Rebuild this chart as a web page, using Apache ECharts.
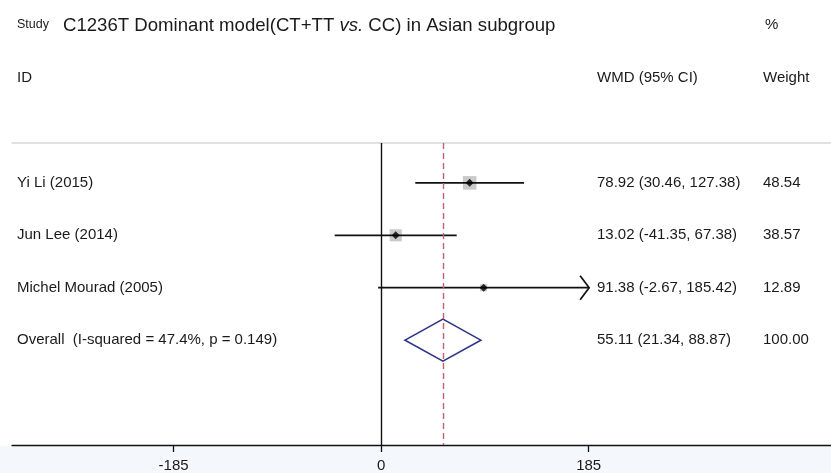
<!DOCTYPE html>
<html>
<head>
<meta charset="utf-8">
<script src="https://cdn.jsdelivr.net/npm/echarts@6/dist/echarts.min.js"></script>
<style>
  html, body { margin: 0; padding: 0; background: #fff; }
  #main { width: 831px; height: 473px; }
</style>
</head>
<body>
<div id="main"></div>
<script>
// study rows
const studies = ['Yi Li (2015)', 'Jun Lee (2014)', 'Michel Mourad (2005)'];
const wmd = [78.92, 13.02, 91.38];
const ciLow = [30.46, -41.35, -2.67];
const ciHigh = [127.38, 67.38, 185.42];
const weights = [48.54, 38.57, 12.89];

// pooled estimate
const overallLabel = 'Overall  (I-squared = 47.4%, p = 0.149)';
const overallWmd = 55.11;
const overallLow = 21.34;
const overallHigh = 88.87;
const overallWeight = 100.00;

const xTicks = [-185, 0, 185];

const FONT = '"Liberation Sans", Arial, sans-serif';
const TEXT = '#1a1a1a';

const chart = echarts.init(document.getElementById('main'));

const rows = studies.map((s, i) => i + 1);
const overallRow = studies.length + 1;
const allLabels = studies.concat([overallLabel]);
const allCi = wmd.map((w, i) => w.toFixed(2) + ' (' + ciLow[i].toFixed(2) + ', ' + ciHigh[i].toFixed(2) + ')')
  .concat([overallWmd.toFixed(2) + ' (' + overallLow.toFixed(2) + ', ' + overallHigh.toFixed(2) + ')']);
const allWeights = weights.concat([overallWeight]).map(w => w.toFixed(2));
const axisMax = Math.max.apply(null, xTicks);

const option = {
  animation: false,
  backgroundColor: '#fff',
  grid: { left: 12, right: 0, top: 143, bottom: 28 },
  xAxis: [{
    type: 'value',
    min: -329,
    max: 401,
    position: 'bottom',
    splitLine: { show: false },
    axisLine: { lineStyle: { color: '#111', width: 1.3 } },
    axisTick: { customValues: xTicks, length: 7, lineStyle: { color: '#111', width: 1.3 } },
    axisLabel: { customValues: xTicks, fontSize: 15, color: TEXT, fontFamily: FONT, margin: 13 }
  }, {
    type: 'value',
    min: -329,
    max: 401,
    position: 'top',
    splitLine: { show: false },
    axisLine: { lineStyle: { color: '#d8d8d8', width: 1.5 } },
    axisTick: { show: false },
    axisLabel: { show: false }
  }],
  yAxis: {
    type: 'value',
    inverse: true,
    min: 0.24,
    max: 6,
    show: false
  },
  graphic: [
    { type: 'rect', shape: { x: 0, y: 446, width: 831, height: 27 }, style: { fill: '#f4f8fc' }, z: -1 },
    { type: 'text', style: { text: 'Study', x: 17, y: 25, font: '12.5px ' + FONT, fill: TEXT, verticalAlign: 'middle' } },
    { type: 'text', style: {
      text: '{a|C1236T Dominant model(CT+TT }{i|vs.}{a| CC) in Asian subgroup}',
      x: 63, y: 26, verticalAlign: 'middle',
      rich: {
        a: { fontSize: 18.6, fontFamily: FONT, fill: TEXT },
        i: { fontSize: 18.6, fontFamily: FONT, fontStyle: 'italic', fill: TEXT }
      }
    } },
    { type: 'text', style: { text: '%', x: 765, y: 25, font: '15px ' + FONT, fill: TEXT, verticalAlign: 'middle' } },
    { type: 'text', style: { text: 'ID', x: 17, y: 78, font: '15px ' + FONT, fill: TEXT, verticalAlign: 'middle' } },
    { type: 'text', style: { text: 'WMD (95% CI)', x: 597, y: 78, font: '15px ' + FONT, fill: TEXT, verticalAlign: 'middle' } },
    { type: 'text', style: { text: 'Weight', x: 763, y: 78, font: '15px ' + FONT, fill: TEXT, verticalAlign: 'middle' } }
  ],
  series: [
    {
      // weight boxes
      type: 'scatter',
      symbol: 'rect',
      symbolSize: (v, p) => 1.95 * Math.sqrt(weights[p.dataIndex]),
      itemStyle: { color: '#bdbdbd' },
      data: wmd.map((w, i) => [w, rows[i]]),
      z: 2
    },
    {
      // confidence intervals + reference lines
      type: 'custom',
      data: ciLow.map((lo, i) => [lo, ciHigh[i], rows[i]]),
      renderItem: (params, api) => {
        const a = api.coord([api.value(0), api.value(2)]);
        const b = api.coord([api.value(1), api.value(2)]);
        const children = [{
          type: 'line',
          shape: { x1: a[0], y1: a[1], x2: b[0], y2: b[1] },
          style: { stroke: '#111', lineWidth: 1.7 }
        }];
        if (api.value(1) > axisMax) {
          children.push({
            type: 'polyline',
            shape: { points: [[b[0] - 9, b[1] - 12], [b[0], b[1]], [b[0] - 9, b[1] + 12]] },
            style: { stroke: '#111', lineWidth: 1.7, fill: null }
          });
        }
        return { type: 'group', children: children };
      },
      markLine: {
        silent: true,
        symbol: 'none',
        label: { show: false },
        data: [
          { xAxis: 0, lineStyle: { color: '#111', type: 'solid', width: 1.4 } },
          { xAxis: overallWmd, lineStyle: { color: '#c0616d', type: [6, 4], width: 1.4 } }
        ]
      },
      z: 3
    },
    {
      // point estimates
      type: 'scatter',
      symbol: 'diamond',
      symbolSize: 8,
      itemStyle: { color: '#000' },
      data: wmd.map((w, i) => [w, rows[i]]),
      z: 4
    },
    {
      // pooled diamond
      type: 'custom',
      data: [[overallLow, overallWmd, overallHigh, overallRow]],
      renderItem: (params, api) => {
        const r = api.value(3);
        const l = api.coord([api.value(0), r]);
        const m = api.coord([api.value(1), r]);
        const h = api.coord([api.value(2), r]);
        return {
          type: 'polygon',
          shape: { points: [[l[0], l[1]], [m[0], m[1] - 21], [h[0], h[1]], [m[0], m[1] + 21]] },
          style: { stroke: '#2b3585', lineWidth: 1.6, fill: 'rgba(0,0,0,0)' }
        };
      },
      z: 3
    },
    {
      // row texts
      type: 'custom',
      data: allLabels.map((s, i) => [0, i + 1]),
      renderItem: (params, api) => {
        const y = api.coord([0, api.value(1)])[1];
        const i = params.dataIndex;
        const st = (t, x) => ({
          type: 'text',
          style: { text: t, x: x, y: y, font: '15px ' + FONT, fill: TEXT, verticalAlign: 'middle' }
        });
        return { type: 'group', children: [st(allLabels[i], 17), st(allCi[i], 597), st(allWeights[i], 763)] };
      },
      clip: false,
      z: 5
    }
  ]
};

chart.setOption(option);
</script>
</body>
</html>
